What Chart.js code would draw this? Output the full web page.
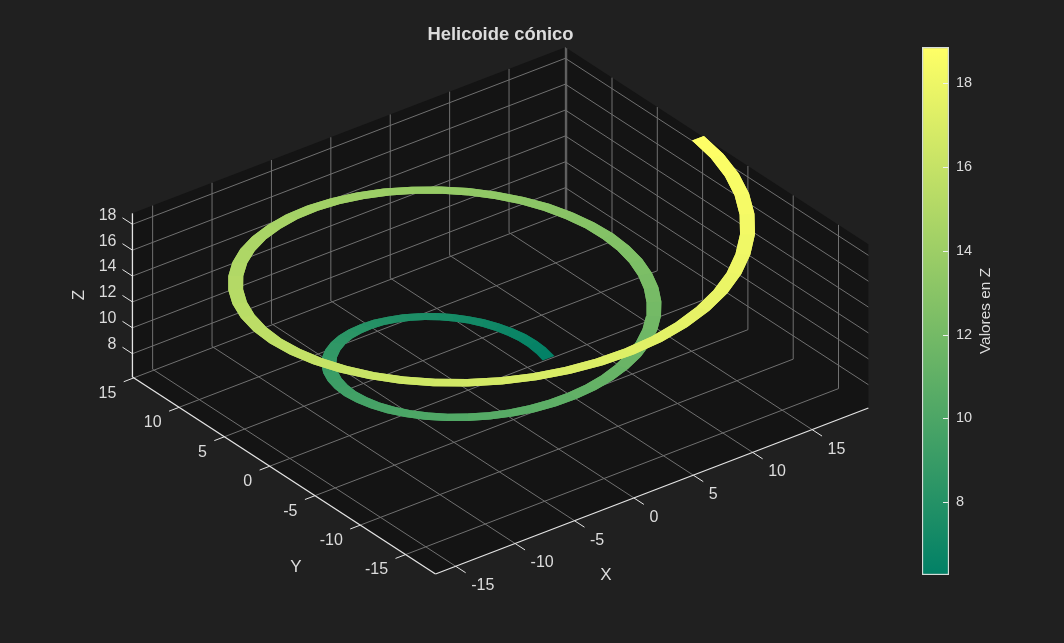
<!DOCTYPE html>
<html lang="es">
<head>
<meta charset="utf-8">
<title>Helicoide cónico</title>
<script src="https://cdn.jsdelivr.net/npm/chart.js@4"></script>
<style>
    html, body { margin: 0; padding: 0; background: #202020; overflow: hidden; }
    #view { position: absolute; left: 0; top: 0; }
    #bar { position: absolute; left: 915px; top: 40px; }
</style>
</head>
<body>
<canvas id="view" width="1064" height="643"></canvas>
<canvas id="bar" width="95" height="545"></canvas>
<script>
/* ===========================
   DATA
=========================== */

const xTicks = [-15, -10, -5, 0, 5, 10, 15];
const yTicks = [15, 10, 5, 0, -5, -10, -15];
const zTicks = [8, 10, 12, 14, 16, 18];
const barTicks = [8, 10, 12, 14, 16, 18];

const xLim = [-16.7, 19.74];
const yLim = [-18.3, 15.15];
const zLim = [6.2, 18.85];
const barLim = [6.27, 18.85];

// inner edge of the ribbon, read every 7.5 degrees along the spiral
const helixX = [
    6.28, 6.36, 6.32, 6.17, 5.89, 5.50, 5.00, 4.38, 3.67, 2.86, 1.96, 1.01,
    0, -1.04, -2.10, -3.16, -4.19, -5.18, -6.11, -6.96, -7.71, -8.34, -8.85, -9.21,
    -9.43, -9.47, -9.36, -9.07, -8.62, -8.00, -7.22, -6.30, -5.24, -4.06, -2.78, -1.42,
    0, 1.45, 2.91, 4.36, 5.76, 7.09, 8.33, 9.45, 10.43, 11.25, 11.89, 12.33,
    12.57, 12.59, 12.39, 11.97, 11.34, 10.49, 9.44, 8.21, 6.81, 5.26, 3.59, 1.83,
    0, -1.86, -3.73, -5.56, -7.33, -9.01, -10.55, -11.94, -13.15, -14.15, -14.92, -15.44,
    -15.71, -15.70, -15.43, -14.88, -14.06, -12.98, -11.66, -10.12, -8.38, -6.46, -4.40, -2.24,
    0, 2.27, 4.54, 6.76, 8.90, 10.92, 12.77, 14.44, 15.87, 17.05, 17.95, 18.56,
    18.85
];
const helixY = [
    0, 0.84, 1.69, 2.55, 3.40, 4.22, 5.00, 5.71, 6.35, 6.89, 7.33, 7.66,
    7.85, 7.92, 7.84, 7.62, 7.26, 6.75, 6.11, 5.34, 4.45, 3.46, 2.37, 1.21,
    0, -1.25, -2.51, -3.76, -4.97, -6.14, -7.22, -8.20, -9.07, -9.80, -10.37, -10.77,
    -11.00, -11.03, -10.87, -10.52, -9.98, -9.24, -8.33, -7.25, -6.02, -4.66, -3.18, -1.62,
    0, 1.66, 3.32, 4.96, 6.55, 8.05, 9.44, 10.70, 11.79, 12.70, 13.40, 13.89,
    14.14, 14.15, 13.91, 13.42, 12.70, 11.74, 10.55, 9.16, 7.59, 5.86, 4.00, 2.03,
    0, -2.07, -4.13, -6.16, -8.12, -9.96, -11.66, -13.19, -14.51, -15.60, -16.44, -17.00,
    -17.28, -17.26, -16.94, -16.33, -15.42, -14.23, -12.77, -11.08, -9.16, -7.06, -4.81, -2.44,
    0
];
const helixZ = [
    6.28, 6.41, 6.55, 6.68, 6.81, 6.94, 7.07, 7.20, 7.33, 7.46, 7.59, 7.72,
    7.85, 7.99, 8.12, 8.25, 8.38, 8.51, 8.64, 8.77, 8.90, 9.03, 9.16, 9.29,
    9.42, 9.56, 9.69, 9.82, 9.95, 10.08, 10.21, 10.34, 10.47, 10.60, 10.73, 10.86,
    11.00, 11.13, 11.26, 11.39, 11.52, 11.65, 11.78, 11.91, 12.04, 12.17, 12.30, 12.44,
    12.57, 12.70, 12.83, 12.96, 13.09, 13.22, 13.35, 13.48, 13.61, 13.74, 13.88, 14.01,
    14.14, 14.27, 14.40, 14.53, 14.66, 14.79, 14.92, 15.05, 15.18, 15.32, 15.45, 15.58,
    15.71, 15.84, 15.97, 16.10, 16.23, 16.36, 16.49, 16.62, 16.76, 16.89, 17.02, 17.15,
    17.28, 17.41, 17.54, 17.67, 17.80, 17.93, 18.06, 18.20, 18.33, 18.46, 18.59, 18.72,
    18.85
];
const ribbonWidth = 1;

/* ===========================
   COLOURS
=========================== */

const GRID = "#707070";
const AXIS = "#e4e4e4";
const TEXT = "#dcdcdc";
const PANE = "#141414";

// summer colormap
function summer(z) {
    const f = (z - zLim[0]) / (zLim[1] - zLim[0]);
    const t = Math.min(1, Math.max(0, f));
    return `rgb(${Math.round(255 * t)},${Math.round(127.5 + 127.5 * t)},102)`;
}

/* ===========================
   VIEW (axes to page)
=========================== */

const corner = { x: 435.5, y: 574 };
const xStep = { x: 11.88, y: -4.555 };
const yStep = { x: -9.06, y: -5.89 };
const zStep = 12.94;

function project(x, y, z) {
    const dx = x - xLim[0];
    const dy = y - yLim[0];
    return {
        x: corner.x + dx * xStep.x + dy * yStep.x,
        y: corner.y + dx * xStep.y + dy * yStep.y - (z - zLim[0]) * zStep
    };
}

function segment(a, b, color, width) {
    return {
        data: [a, b],
        showLine: true,
        borderColor: color,
        borderWidth: width || 1,
        pointRadius: 0,
        fill: false
    };
}

function polygon(points, color) {
    return {
        data: points,
        showLine: true,
        borderWidth: 0,
        pointRadius: 0,
        backgroundColor: color,
        fill: "shape"
    };
}

/* ===========================
   DATASETS
=========================== */

function outerPoint(i) {
    const r = Math.hypot(helixX[i], helixY[i]);
    const k = (r + ribbonWidth) / r;
    return project(helixX[i] * k, helixY[i] * k, helixZ[i]);
}

function innerPoint(i) {
    return project(helixX[i], helixY[i], helixZ[i]);
}

// chart.js paints the first dataset last, so the top of the spiral goes first.
// each piece runs one step past its end, the next piece covers that overlap
function ribbonDatasets() {
    const out = [];
    const last = helixX.length - 1;
    for (let i = last - 1; i >= 0; i--) {
        const over = Math.min(i + 2, last);
        out.push(polygon([
            innerPoint(i),
            innerPoint(i + 1),
            innerPoint(over),
            outerPoint(over),
            outerPoint(i + 1),
            outerPoint(i)
        ], summer((helixZ[i] + helixZ[i + 1]) / 2)));
    }
    return out;
}

function axisDatasets() {
    const out = [];
    const zb = zLim[0];

    // front edges and z axis
    out.push(segment(project(xLim[0], yLim[0], zb), project(xLim[1], yLim[0], zb), AXIS, 1.3));
    out.push(segment(project(xLim[0], yLim[0], zb), project(xLim[0], yLim[1], zb), AXIS, 1.3));
    out.push(segment(project(xLim[0], yLim[1], zb), project(xLim[0], yLim[1], zLim[1]), AXIS, 1.3));

    // tick marks
    xTicks.forEach(v => {
        out.push(segment(project(v, yLim[0], zb), project(v, yLim[0] - 1.1, zb), AXIS));
    });
    yTicks.forEach(v => {
        out.push(segment(project(xLim[0], v, zb), project(xLim[0] - 0.85, v, zb), AXIS));
    });
    zTicks.forEach(v => {
        out.push(segment(project(xLim[0], yLim[1], v), project(xLim[0], yLim[1] + 1.1, v), AXIS));
    });
    return out;
}

function gridDatasets() {
    const out = [];
    const zb = zLim[0];

    xTicks.forEach(v => {
        out.push(segment(project(v, yLim[0], zb), project(v, yLim[1], zb), GRID));
        out.push(segment(project(v, yLim[1], zb), project(v, yLim[1], zLim[1]), GRID));
    });
    yTicks.forEach(v => {
        out.push(segment(project(xLim[0], v, zb), project(xLim[1], v, zb), GRID));
        out.push(segment(project(xLim[1], v, zb), project(xLim[1], v, zLim[1]), GRID));
    });
    zTicks.forEach(v => {
        out.push(segment(project(xLim[0], yLim[1], v), project(xLim[1], yLim[1], v), GRID));
        out.push(segment(project(xLim[1], yLim[1], v), project(xLim[1], yLim[0], v), GRID));
    });
    out.push(segment(project(xLim[1], yLim[1], zb), project(xLim[1], yLim[1], zLim[1]), GRID));
    return out;
}

function paneDataset() {
    return polygon([
        project(xLim[0], yLim[1], zLim[0]),
        project(xLim[0], yLim[0], zLim[0]),
        project(xLim[1], yLim[0], zLim[0]),
        project(xLim[1], yLim[0], zLim[1]),
        project(xLim[1], yLim[1], zLim[1]),
        project(xLim[0], yLim[1], zLim[1])
    ], PANE);
}

/* ===========================
   TEXT
=========================== */

function label(ctx, text, x, y, font, align) {
    ctx.font = font;
    ctx.fillStyle = TEXT;
    ctx.textAlign = align;
    ctx.textBaseline = "middle";
    ctx.fillText(text, x, y);
}

function rotatedLabel(ctx, text, x, y, font) {
    ctx.save();
    ctx.translate(x, y);
    ctx.rotate(-Math.PI / 2);
    label(ctx, text, 0, 0, font, "center");
    ctx.restore();
}

const viewText = {
    id: "viewText",
    afterDraw(chart) {
        const ctx = chart.ctx;
        const sx = chart.scales.x;
        const sy = chart.scales.y;
        const tickFont = "16px 'Liberation Sans', Arial, sans-serif";
        const nameFont = "17px 'Liberation Sans', Arial, sans-serif";

        ctx.save();
        xTicks.forEach(v => {
            const p = project(v, yLim[0], zLim[0]);
            label(ctx, String(v), sx.getPixelForValue(p.x) + 15.5, sy.getPixelForValue(p.y) + 19.5, tickFont, "left");
        });
        yTicks.forEach(v => {
            const p = project(xLim[0], v, zLim[0]);
            label(ctx, String(v), sx.getPixelForValue(p.x) - 17.5, sy.getPixelForValue(p.y) + 15.5, tickFont, "right");
        });
        zTicks.forEach(v => {
            const p = project(xLim[0], yLim[1], v);
            label(ctx, String(v), sx.getPixelForValue(p.x) - 16, sy.getPixelForValue(p.y) - 9, tickFont, "right");
        });

        label(ctx, "X", 606, 575, nameFont, "center");
        label(ctx, "Y", 296, 567, nameFont, "center");
        rotatedLabel(ctx, "Z", 79, 295, nameFont);
        label(ctx, "Helicoide cónico", 500.5, 35, "bold 18.4px 'Liberation Sans', Arial, sans-serif", "center");
        ctx.restore();
    }
};

/* ===========================
   MAIN CHART
=========================== */

new Chart(document.getElementById("view"), {
    type: "scatter",
    data: {
        datasets: [
            ...ribbonDatasets(),
            ...axisDatasets(),
            ...gridDatasets(),
            paneDataset()
        ]
    },
    options: {
        responsive: false,
        animation: false,
        layout: { padding: 0 },
        plugins: {
            legend: { display: false },
            tooltip: { enabled: false }
        },
        scales: {
            x: { display: false, min: 0, max: 1064 },
            y: { display: false, min: 0, max: 643, reverse: true }
        }
    },
    plugins: [viewText]
});

/* ===========================
   COLORBAR
=========================== */

const barMarks = {
    id: "barMarks",
    afterDraw(chart) {
        const ctx = chart.ctx;
        const area = chart.chartArea;
        const sy = chart.scales.y;

        ctx.save();
        ctx.strokeStyle = "#eef2f0";
        ctx.lineWidth = 1;
        barTicks.forEach(v => {
            const py = Math.round(sy.getPixelForValue(v)) + 0.5;
            ctx.beginPath();
            ctx.moveTo(area.right - 6, py);
            ctx.lineTo(area.right - 1, py);
            ctx.stroke();
        });
        rotatedLabel(ctx, "Valores en Z", 71, 271, "15.4px 'Liberation Sans', Arial, sans-serif");
        ctx.restore();
    }
};

new Chart(document.getElementById("bar"), {
    type: "bar",
    data: {
        labels: ["Z"],
        datasets: [
            {
                data: [barLim],
                barPercentage: 1,
                categoryPercentage: 1,
                borderWidth: 1.5,
                borderColor: "#d5dcd8",
                borderSkipped: false,
                backgroundColor: context => {
                    const area = context.chart.chartArea;
                    if (!area) return summer(barLim[0]);
                    const fade = context.chart.ctx.createLinearGradient(0, area.bottom, 0, area.top);
                    fade.addColorStop(0, summer(barLim[0]));
                    fade.addColorStop(1, summer(barLim[1]));
                    return fade;
                }
            }
        ]
    },
    options: {
        responsive: false,
        animation: false,
        layout: { padding: { left: 7, top: 7, bottom: 10, right: 0 } },
        plugins: {
            legend: { display: false },
            tooltip: { enabled: false }
        },
        scales: {
            x: { display: false },
            y: {
                position: "right",
                min: barLim[0],
                max: barLim[1],
                border: { display: false },
                grid: { display: false, drawTicks: false },
                afterBuildTicks: axis => {
                    axis.ticks = barTicks.map(v => ({ value: v }));
                },
                afterFit: axis => {
                    axis.width = 61;
                    axis.paddingTop = 0;
                    axis.paddingBottom = 0;
                },
                ticks: {
                    color: TEXT,
                    padding: 7,
                    font: { family: "'Liberation Sans', Arial, sans-serif", size: 14.5 }
                }
            }
        }
    },
    plugins: [barMarks]
});
</script>
</body>
</html>
